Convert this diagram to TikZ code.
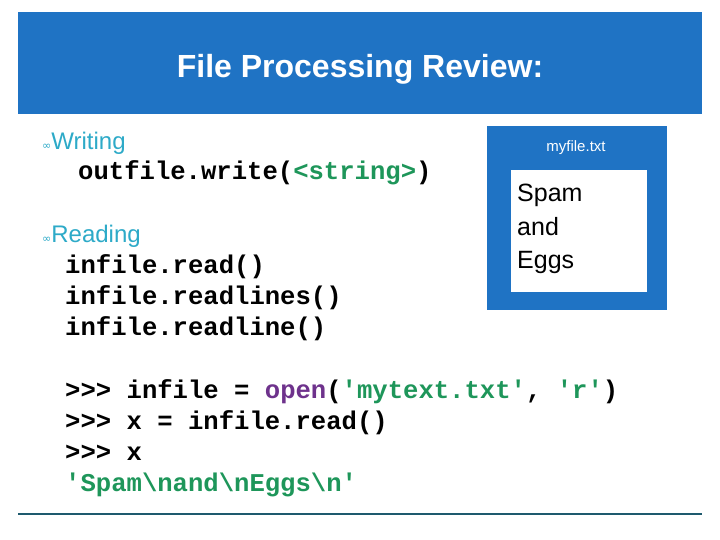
\documentclass[tikz,border=0pt]{standalone}
\usepackage{fontspec}
\setmainfont{Liberation Sans}
\newfontfamily\codefont{Liberation Mono}
\newfontfamily\dvs{DejaVu Sans}
\definecolor{hdr}{RGB}{31,115,196}
\definecolor{tealt}{RGB}{45,170,200}
\definecolor{strg}{RGB}{30,150,90}
\definecolor{purp}{RGB}{110,50,140}
\definecolor{rule}{RGB}{30,90,110}
\tikzset{
  code/.style={anchor=base west,inner sep=0pt,font=\codefont\bfseries\fontsize{25.6}{28}\selectfont},
  bul/.style={anchor=base west,inner sep=0pt,text=tealt,font=\fontsize{24}{28}\selectfont},
}
\begin{document}
\begin{tikzpicture}[x=1pt,y=-1pt]
\useasboundingbox (0,0) rectangle (720,540);
\fill[white] (0,0) rectangle (720,540);
\fill[hdr] (18,12) rectangle (702,114);
\node[anchor=base,text=white,font=\bfseries\fontsize{32}{36}\selectfont,inner sep=0pt] (title) at (360,78) {File Processing Review:};
\node[bul] (w) at (42,150) {{\dvs\fontsize{11}{12}\selectfont ∞}Writing};
\node[code] (c1) at (78,180) {outfile.write(\textcolor{strg}{<string>})};
\node[bul] (r) at (42,243) {{\dvs\fontsize{11}{12}\selectfont ∞}Reading};
\node[code] (c2) at (65,273) {infile.read()};
\node[code] (c3) at (65,304) {infile.readlines()};
\node[code] (c4) at (65,335) {infile.readline()};
\fill[hdr] (487,126) rectangle (667,310);
\node[text=white,font=\fontsize{15}{18}\selectfont,inner sep=0pt] (fn) at (576,148) {myfile.txt};
\fill[white] (511,170) rectangle (647,292);
\node[anchor=north west,align=left,inner sep=0pt,font=\fontsize{25}{33.5}\selectfont] (se) at (517,184) {Spam\\and\\Eggs};
\node[code] (i1) at (65,398) {>>> infile = \textcolor{purp}{open}(\textcolor{strg}{'mytext.txt'}, \textcolor{strg}{'r'})};
\node[code] (i2) at (65,429) {>>> x = infile.read()};
\node[code] (i3) at (65,460) {>>> x};
\node[code,text=strg] (i4) at (65,491) {'Spam\textbackslash nand\textbackslash nEggs\textbackslash n'};
\draw[rule,line width=2pt] (18,514) -- (702,514);
\end{tikzpicture}
\end{document}
